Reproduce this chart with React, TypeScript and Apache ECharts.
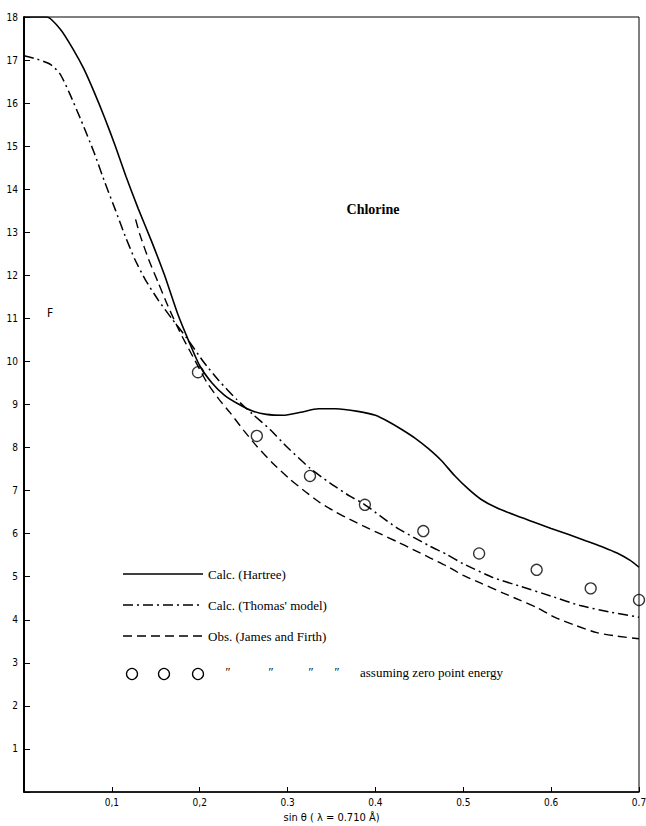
import React, { useEffect, useRef } from 'react';
import * as echarts from 'echarts';

// sin(theta) (lambda = 0.710 A) vs F for chlorine
const hartree: [number, number][] = [
  [0, 18.0], [0.026, 18.0], [0.042, 17.7], [0.056, 17.25], [0.068, 16.8], [0.08, 16.25],
  [0.092, 15.65], [0.104, 15.0], [0.116, 14.3], [0.13, 13.55], [0.145, 12.8], [0.16, 12.0],
  [0.175, 11.1], [0.188, 10.45], [0.2, 9.9], [0.214, 9.5], [0.228, 9.22], [0.245, 9.0],
  [0.26, 8.85], [0.276, 8.77], [0.295, 8.75], [0.315, 8.82], [0.335, 8.9], [0.355, 8.9],
  [0.38, 8.84], [0.4, 8.75], [0.415, 8.6], [0.43, 8.42], [0.445, 8.22], [0.46, 7.98],
  [0.475, 7.7], [0.49, 7.35], [0.505, 7.05], [0.52, 6.8], [0.538, 6.6], [0.56, 6.42],
  [0.58, 6.27], [0.6, 6.12], [0.62, 5.98], [0.64, 5.83], [0.66, 5.68], [0.675, 5.55],
  [0.69, 5.38], [0.7, 5.22],
];

const thomas: [number, number][] = [
  [0, 17.1], [0.015, 17.02], [0.03, 16.9], [0.041, 16.68], [0.052, 16.22], [0.065, 15.6],
  [0.08, 14.84], [0.092, 14.16], [0.104, 13.52], [0.115, 12.92], [0.126, 12.38], [0.138, 11.9],
  [0.153, 11.42], [0.168, 11.0], [0.185, 10.55], [0.204, 10.0], [0.222, 9.55], [0.242, 9.12],
  [0.26, 8.78], [0.28, 8.42], [0.3, 8.0], [0.3255, 7.52], [0.348, 7.18], [0.371, 6.87],
  [0.386, 6.7], [0.405, 6.42], [0.424, 6.14], [0.443, 5.92], [0.462, 5.71], [0.481, 5.52],
  [0.5, 5.3], [0.534, 4.98], [0.5645, 4.78], [0.6, 4.55], [0.633, 4.33], [0.667, 4.18],
  [0.7, 4.06],
];

const jamesFirth: [number, number][] = [
  [0.127, 13.3], [0.132, 12.94], [0.142, 12.36], [0.153, 11.82], [0.164, 11.28], [0.177, 10.7],
  [0.192, 10.12], [0.208, 9.52], [0.222, 9.12], [0.235, 8.8], [0.25, 8.4], [0.265, 8.03],
  [0.284, 7.62], [0.303, 7.26], [0.32, 6.98], [0.337, 6.72], [0.355, 6.5], [0.371, 6.33],
  [0.386, 6.18], [0.405, 6.0], [0.424, 5.82], [0.443, 5.63], [0.462, 5.44], [0.481, 5.25],
  [0.5, 5.03], [0.52, 4.85], [0.5455, 4.62], [0.565, 4.45], [0.584, 4.28], [0.605, 4.05],
  [0.629, 3.86], [0.652, 3.7], [0.675, 3.62], [0.7, 3.56],
];

const zeroPointX = [0.198, 0.265, 0.3255, 0.388, 0.4545, 0.518, 0.5835, 0.645, 0.7];
const zeroPointF = [9.75, 8.27, 7.34, 6.67, 6.06, 5.54, 5.16, 4.73, 4.46];

const xTickLabels: Record<string, string> = {
  '0.1': '0,1', '0.2': '0,2', '0.3': '0.3', '0.4': '0.4', '0.5': '0.5', '0.6': '0.6', '0.7': '0.7',
};
const legendLabels = ['Calc. (Hartree)', "Calc. (Thomas' model)", 'Obs. (James and Firth)'];
const zeroPointLabel = 'assuming zero point energy';
const dittoMark = '″';
const titleText = 'Chlorine';
const xAxisName = 'sin θ ( λ = 0.710 Å)';
const yAxisName = 'F';

const SERIF = 'Liberation Serif, DejaVu Serif, serif';
const TICKFONT = 'DejaVu Sans Condensed, Liberation Sans, sans-serif';

export default function App() {
  const ref = useRef<HTMLDivElement>(null);
  useEffect(() => {
    if (!ref.current) return;
    const chart = echarts.init(ref.current, undefined, { renderer: 'svg' });
    const dashDot = [10, 4, 2, 4];
    const dashed = [9, 5];
    const legendX1 = 123;
    const legendX2 = 203;
    const legendYs = [574, 605, 636];
    const legendStyles: any[] = [
      { lineWidth: 1.6 },
      { lineWidth: 1.5, lineDash: dashDot },
      { lineWidth: 1.4, lineDash: dashed },
    ];
    const graphics: any[] = [];
    legendYs.forEach((y, i) => {
      graphics.push({
        type: 'line',
        shape: { x1: legendX1, y1: y, x2: legendX2, y2: y },
        style: { stroke: '#000', ...legendStyles[i] },
      });
      graphics.push({
        type: 'text',
        x: 208,
        y,
        style: {
          text: legendLabels[i], fontSize: 13, fontFamily: SERIF, fill: '#000',
          verticalAlign: 'middle', align: 'left',
        },
      });
    });
    [132, 164, 198].forEach((cx) => {
      graphics.push({
        type: 'circle',
        shape: { cx, cy: 674, r: 5.5 },
        style: { fill: 'none', stroke: '#000', lineWidth: 1.3 },
      });
    });
    [228, 271, 311, 337].forEach((x) => {
      graphics.push({
        type: 'text',
        x,
        y: 672,
        style: {
          text: dittoMark, fontSize: 12, fontFamily: SERIF, fill: '#000',
          verticalAlign: 'middle', align: 'center',
        },
      });
    });
    graphics.push({
      type: 'text',
      x: 360,
      y: 672,
      style: {
        text: zeroPointLabel, fontSize: 13, fontFamily: SERIF, fill: '#000',
        verticalAlign: 'middle', align: 'left',
      },
    });
    graphics.push({
      type: 'text',
      x: 373,
      y: 209,
      style: {
        text: titleText, fontSize: 14, fontWeight: 'bold', fontFamily: SERIF, fill: '#000',
        verticalAlign: 'middle', align: 'center',
      },
    });
    graphics.push({
      type: 'text',
      x: 50,
      y: 313,
      style: {
        text: yAxisName, fontSize: 12, fontFamily: TICKFONT, fill: '#000',
        verticalAlign: 'middle', align: 'center',
      },
    });

    chart.setOption({
      animation: false,
      backgroundColor: '#fff',
      grid: {
        left: 24, right: 7, top: 17, bottom: 34,
        show: true, borderColor: '#000', borderWidth: 1,
        containLabel: false, outerBoundsMode: 'none',
      },
      xAxis: {
        type: 'value', min: 0, max: 0.7, interval: 0.1,
        axisLine: { lineStyle: { color: '#000', width: 1.5 } },
        axisTick: { inside: true, length: 5, lineStyle: { color: '#000', width: 1 } },
        axisLabel: {
          color: '#000', fontSize: 10, fontFamily: TICKFONT, margin: 5,
          formatter: (v: number) => xTickLabels[String(Math.round(v * 10) / 10)] || '',
        },
        splitLine: { show: false },
        name: xAxisName, nameLocation: 'middle', nameGap: 20,
        nameTextStyle: { color: '#000', fontSize: 11, fontFamily: TICKFONT },
      },
      yAxis: {
        type: 'value', min: 0, max: 18, interval: 1,
        axisLine: { lineStyle: { color: '#000', width: 2 } },
        axisTick: { inside: true, length: 6, lineStyle: { color: '#000', width: 1 } },
        axisLabel: {
          color: '#000', fontSize: 10, fontFamily: TICKFONT, margin: 6,
          formatter: (v: number) => (v === 0 ? '' : String(v)),
        },
        splitLine: { show: false },
      },
      graphic: graphics,
      series: [
        {
          name: legendLabels[0], type: 'line', data: hartree, symbol: 'none', smooth: 0.2,
          lineStyle: { color: '#000', width: 1.6 },
        },
        {
          name: legendLabels[1], type: 'line', data: thomas, symbol: 'none', smooth: 0.2,
          lineStyle: { color: '#000', width: 1.5, type: dashDot },
        },
        {
          name: legendLabels[2], type: 'line', data: jamesFirth, symbol: 'none', smooth: 0.2,
          lineStyle: { color: '#000', width: 1.4, type: dashed },
        },
        {
          name: zeroPointLabel, type: 'scatter', clip: false, symbol: 'circle', symbolSize: 11,
          data: zeroPointX.map((x, i) => [x, zeroPointF[i]]),
          itemStyle: { color: 'rgba(0,0,0,0)', borderColor: '#000', borderWidth: 1.3 },
        },
      ],
    });
    return () => chart.dispose();
  }, []);
  return (
    <div
      ref={ref}
      style={{ position: 'absolute', left: 0, top: 0, width: 646, height: 826, background: '#fff' }}
    />
  );
}
